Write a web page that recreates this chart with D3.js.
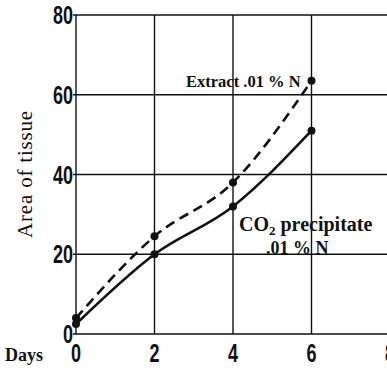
<!DOCTYPE html>
<html>
<head>
<meta charset="utf-8">
<script src="https://cdn.jsdelivr.net/npm/d3@7"></script>
<style>
  body { margin: 0; background: #fff; }
  svg { display: block; }
  .tick-label { font-family: "Liberation Sans", Arial, sans-serif; font-weight: bold; font-size: 25px; fill: #111; }
  .note { font-family: "Liberation Serif", "DejaVu Serif", serif; font-weight: bold; fill: #111; }
</style>
</head>
<body>
<div id="container"></div>
<script>
var width = 387,
    height = 368;

// days and the two curves (area of tissue)
const days = [0, 2, 4, 6];
const extract = [4, 24.5, 38, 63.5];      // dashed, Extract .01% N
const precipitate = [2.5, 20, 32, 51];    // solid, CO2 precipitate .01% N

const xTicks = [0, 2, 4, 6, 8];
const yTicks = [0, 20, 40, 60, 80];

var svg = d3.select("#container").append("svg")
  .attr("width", width)
  .attr("height", height);

var x = d3.scaleLinear().domain([0, 8]).range([76, 390]);
var y = d3.scaleLinear().domain([0, 80]).range([334, 15]);

// grid
var grid = svg.append("g").attr("stroke", "#111").attr("stroke-width", 1.4);
grid.selectAll("line.h")
  .data(yTicks)
  .enter().append("line")
  .attr("x1", x(0) - 3)
  .attr("x2", width)
  .attr("y1", d => y(d))
  .attr("y2", d => y(d));
grid.selectAll("line.v")
  .data(xTicks)
  .enter().append("line")
  .attr("x1", d => x(d))
  .attr("x2", d => x(d))
  .attr("y1", y(80))
  .attr("y2", y(0));

// tick labels, squeezed to look like the narrow printed digits
svg.append("g").selectAll("text")
  .data(yTicks)
  .enter().append("text")
  .attr("class", "tick-label")
  .attr("transform", d => "translate(" + (x(0) - 3) + "," + (y(d) + 9) + ") scale(0.72,1)")
  .attr("text-anchor", "end")
  .text(d => d);

svg.append("g").selectAll("text")
  .data(xTicks)
  .enter().append("text")
  .attr("class", "tick-label")
  .attr("transform", d => "translate(" + x(d) + ",362) scale(0.72,1)")
  .attr("text-anchor", "middle")
  .text(d => d);

svg.append("text")
  .attr("class", "note")
  .attr("x", 5)
  .attr("y", 361)
  .attr("font-size", 18)
  .text("Days");

svg.append("text")
  .attr("class", "note")
  .attr("transform", "translate(32,174) rotate(-90)")
  .attr("text-anchor", "middle")
  .attr("font-size", 21)
  .style("font-weight", "normal")
  .attr("letter-spacing", 0.8)
  .text("Area of tissue");

// curves
var line = d3.line()
  .x(d => x(d[0]))
  .y(d => y(d[1]))
  .curve(d3.curveMonotoneX);

var series = [
  { values: extract, dash: "10,6" },
  { values: precipitate, dash: null }
];

series.forEach(function(s) {
  var pts = days.map((d, i) => [d, s.values[i]]);
  svg.append("path")
    .datum(pts)
    .attr("fill", "none")
    .attr("stroke", "#111")
    .attr("stroke-width", 2.6)
    .attr("stroke-dasharray", s.dash)
    .attr("d", line);
  svg.append("g").selectAll("circle")
    .data(pts)
    .enter().append("circle")
    .attr("cx", d => x(d[0]))
    .attr("cy", d => y(d[1]))
    .attr("r", 4)
    .attr("fill", "#111");
});

// labels on the curves
svg.append("text")
  .attr("class", "note")
  .attr("x", 186)
  .attr("y", 87)
  .attr("font-size", 16.5)
  .text("Extract .01 % N");

var co2 = svg.append("text")
  .attr("class", "note")
  .attr("x", 239)
  .attr("y", 231)
  .attr("font-size", 20);
co2.append("tspan").text("CO");
co2.append("tspan").attr("font-size", 13).attr("dy", 4).text("2");
co2.append("tspan").attr("dy", -4).text(" precipitate");

svg.append("text")
  .attr("class", "note")
  .attr("x", 266)
  .attr("y", 254)
  .attr("font-size", 18)
  .text(".01 % N");
</script>
</body>
</html>
